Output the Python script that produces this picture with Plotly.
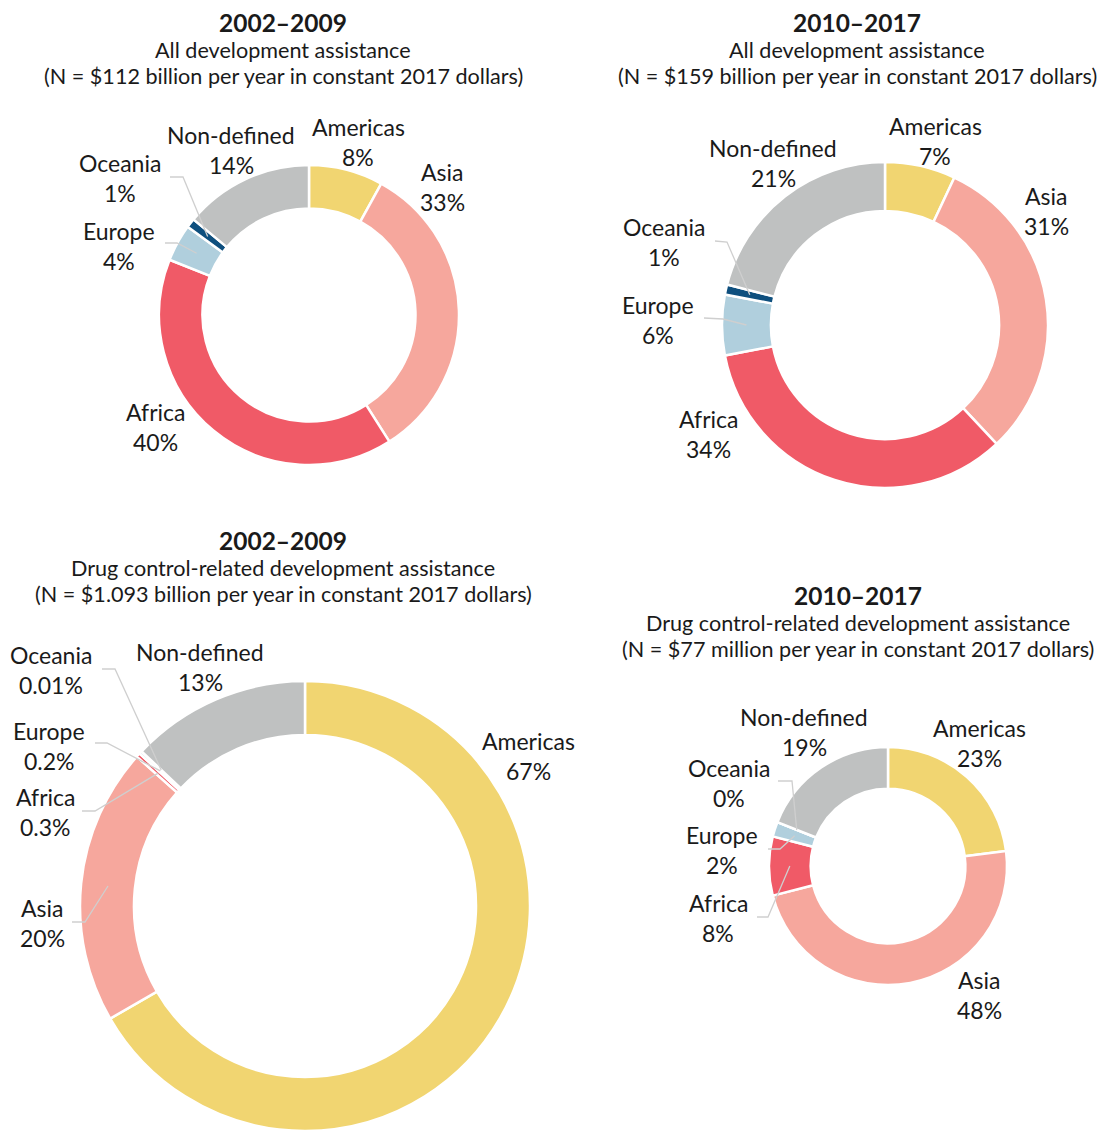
import math
import plotly.graph_objects as go

W, H = 1107, 1131
OFF = 8  # the page body adds an 8px margin

regions = ["Americas", "Asia", "Africa", "Europe", "Oceania", "Non-defined"]
colors = ["#F1D571", "#F6A79D", "#F05A67", "#B0CFDD", "#0E4F7E", "#BFC1C1"]

all_2002 = [8, 33, 40, 4, 1, 14]
all_2010 = [7, 31, 34, 6, 1, 21]
drug_2002 = [67, 20, 0.3, 0.2, 0.01, 13]
drug_2010 = [23, 48, 8, 2, 0, 19]

periods = ["2002\u20132009", "2010\u20132017", "2002\u20132009", "2010\u20132017"]
subtitles = ["All development assistance", "All development assistance",
             "Drug control-related development assistance",
             "Drug control-related development assistance"]
totals = ["(N = $112 billion per year in constant 2017 dollars)",
          "(N = $159 billion per year in constant 2017 dollars)",
          "(N = $1.093 billion per year in constant 2017 dollars)",
          "(N = $77 million per year in constant 2017 dollars)"]

series = [all_2002, all_2010, drug_2002, drug_2010]

# layout of each donut in screen pixels: centre x, centre y, outer radius, hole fraction
pies = [
    dict(cx=309, cy=315, r=150, hole=0.71, title=(283, 22)),
    dict(cx=885, cy=325, r=163, hole=0.70, title=(857, 22)),
    dict(cx=305, cy=906, r=225, hole=0.76, title=(283, 540)),
    dict(cx=888, cy=866, r=119, hole=0.65, title=(858, 595)),
]

# label positions (centre of the name line), screen pixels
label_pos = [
    {"Americas": (358, 127), "Asia": (442, 172), "Africa": (155, 412),
     "Europe": (119, 231), "Oceania": (120, 163), "Non-defined": (231, 135)},
    {"Americas": (935, 126), "Asia": (1046, 196), "Africa": (708, 419),
     "Europe": (658, 305), "Oceania": (664, 227), "Non-defined": (773, 148)},
    {"Americas": (528, 741), "Asia": (42, 908), "Africa": (45, 797),
     "Europe": (49, 731), "Oceania": (51, 655), "Non-defined": (200, 652)},
    {"Americas": (979, 728), "Asia": (979, 980), "Africa": (718, 903),
     "Europe": (722, 835), "Oceania": (729, 768), "Non-defined": (804, 717)},
]

# leader lines: pie, region, start, elbow (screen pixels); tip is the slice middle
leaders = [
    (0, "Oceania", (170, 177), (183, 177)),
    (0, "Europe", (165, 243), (177, 243)),
    (1, "Oceania", (715, 241), (727, 242)),
    (1, "Europe", (704, 318), (723, 319)),
    (2, "Oceania", (102, 669), (115, 669)),
    (2, "Europe", (95, 743), (107, 743)),
    (2, "Africa", (82, 811), (95, 811)),
    (2, "Asia", (72, 922), (85, 922)),
    (3, "Oceania", (778, 781), (792, 781)),
    (3, "Europe", (768, 849), (780, 849)),
    (3, "Africa", (757, 917), (768, 917)),
]

FONT = "Lato"
TXT = "#1a1a1a"
FW, FH = W - OFF, H - OFF


def px(x, y):
    return (x - OFF) / FW, 1 - (y - OFF) / FH


fig = go.Figure()
annotations = []
shapes = []

for i, (p, vals) in enumerate(zip(pies, series)):
    x0, y1 = px(p["cx"] - p["r"], p["cy"] - p["r"])
    x1, y0 = px(p["cx"] + p["r"], p["cy"] + p["r"])
    fig.add_trace(go.Pie(
        labels=regions, values=vals, hole=p["hole"], sort=False,
        direction="clockwise", rotation=0, textinfo="none",
        marker=dict(colors=colors, line=dict(color="white", width=2.5)),
        domain=dict(x=[max(x0, 0), min(x1, 1)], y=[max(y0, 0), min(y1, 1)]),
        showlegend=False, hoverinfo="label+value",
    ))
    tx, ty = p["title"]
    for txt, fs, dy in [("<b>%s</b>" % periods[i], 24.5, 0),
                        (subtitles[i], 21.6, 28), (totals[i], 21.6, 54)]:
        ax_, ay_ = px(tx, ty + dy)
        annotations.append(dict(x=ax_, y=ay_, xref="paper", yref="paper",
                                text=txt, showarrow=False, xanchor="center",
                                yanchor="middle",
                                font=dict(family=FONT, size=fs, color=TXT)))
    for reg, v in zip(regions, vals):
        lx, ly = label_pos[i][reg]
        for txt, dy in [(reg, 0), ("%g%%" % v, 30)]:
            ax_, ay_ = px(lx, ly + dy)
            annotations.append(dict(x=ax_, y=ay_, xref="paper", yref="paper",
                                    text=txt, showarrow=False, xanchor="center",
                                    yanchor="middle",
                                    font=dict(family=FONT, size=23, color=TXT)))

for pi, reg, start, elbow in leaders:
    p = pies[pi]
    vals = series[pi]
    total = sum(vals)
    k = regions.index(reg)
    mid = (sum(vals[:k]) + vals[k] / 2) / total * 2 * math.pi
    rho = p["r"] * (1 + p["hole"]) / 2
    tip = (p["cx"] + rho * math.sin(mid), p["cy"] - rho * math.cos(mid))
    pts = [px(*start), px(*elbow), px(*tip)]
    path = "M %f,%f L %f,%f L %f,%f" % tuple(c for pt in pts for c in pt)
    shapes.append(dict(type="path", path=path, xref="paper", yref="paper",
                       line=dict(color="#cfcfcf", width=1.3)))

fig.update_layout(
    width=FW, height=FH, margin=dict(l=0, r=0, t=0, b=0),
    paper_bgcolor="white", plot_bgcolor="white",
    annotations=annotations, shapes=shapes,
    font=dict(family=FONT, color=TXT),
)

fig.write_html("out.html")
